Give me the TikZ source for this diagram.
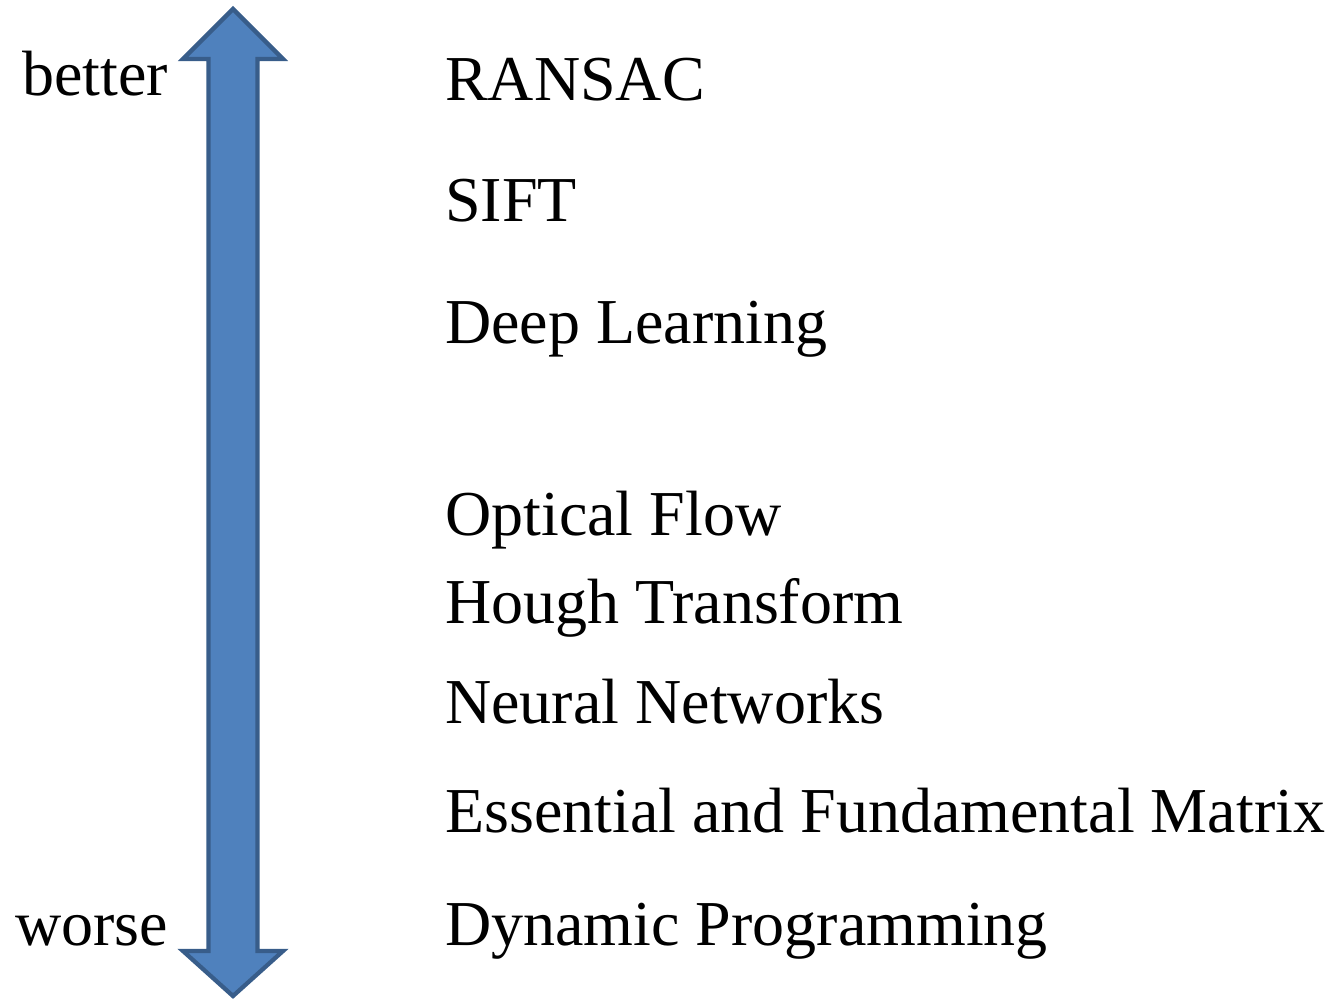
\documentclass[tikz,border=0pt]{standalone}
\usepackage{fontspec}
\setmainfont{Liberation Serif}
\definecolor{azulflecha}{HTML}{4F81BD}
\definecolor{azulborde}{HTML}{385D8A}

\begin{document}
\begin{tikzpicture}[x=0.75pt, y=-0.75pt, every node/.style={font=\fontsize{48}{58}\selectfont, inner sep=0pt, anchor=base west}]
\useasboundingbox (0,0) rectangle (1332,1002);

% Flecha doble vertical (mejor arriba, peor abajo)
\filldraw[fill=azulflecha, draw=azulborde, line width=3.2pt, line join=miter]
  (233,9) -- (283,59) -- (257.5,59) -- (257.5,951) -- (283,951) -- (233,996)
  -- (183,951) -- (208.5,951) -- (208.5,59) -- (183,59) -- cycle;

% Etiquetas de los extremos
\node (mejor) at (22,96) {better};
\node (peor) at (15,945) {worse};

% Lista de métodos
\foreach \nombre/\y [count=\i] in {RANSAC/101, SIFT/222, Deep Learning/343, Optical Flow/535, Hough Transform/623, Neural Networks/723, Essential and Fundamental Matrix/832, Dynamic Programming/945}
  \node (metodo\i) at (445,\y) {\nombre};

\end{tikzpicture}
\end{document}
